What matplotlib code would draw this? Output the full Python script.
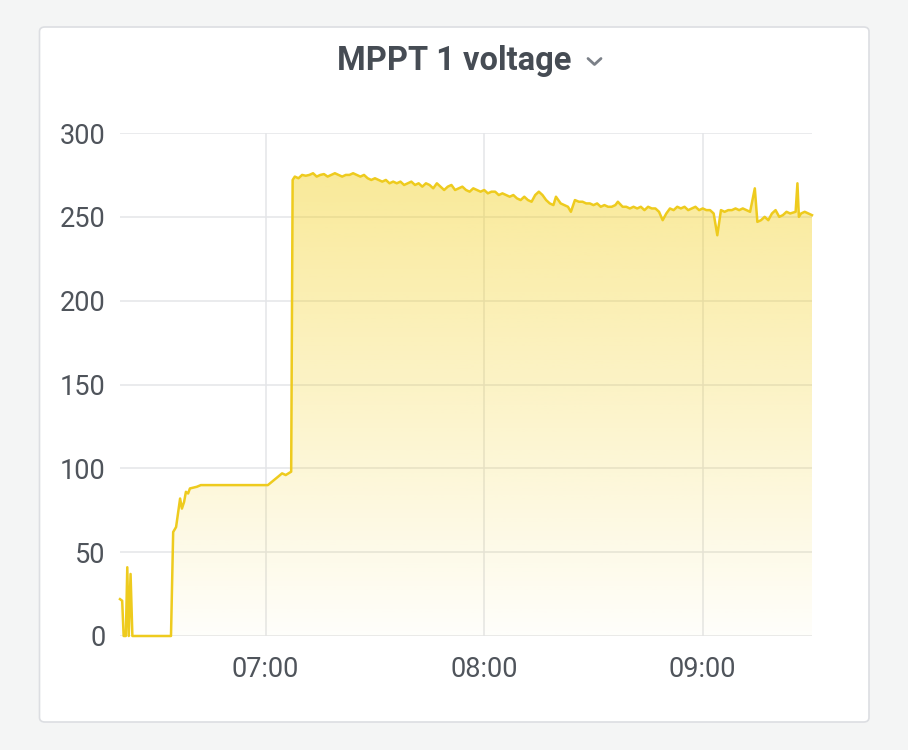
import numpy as np
import pandas as pd
import matplotlib
matplotlib.use("Agg")
import matplotlib.pyplot as plt
import matplotlib.dates as mdates
from matplotlib.patches import FancyBboxPatch, Polygon

plt.rcParams['font.family'] = ['Roboto', 'DejaVu Sans']

title = "MPPT 1 voltage"
start_time = "2024-01-01 06:20"
end_minute = 190

# minutes after 06:20 and voltage values
minutes = [0.0, 0.6, 1.0, 1.6, 2.0, 2.4, 2.9, 3.4, 14.0, 14.6, 15.4, 16.5, 17.0, 17.6,
           18.1, 18.7, 19.2, 21.1, 22.2, 40.6, 42.3, 43.4, 44.5, 45.5, 47.0, 47.4,
           48, 49, 50, 51, 52, 53, 54, 55, 56, 57, 58, 59, 60, 61, 62, 63, 64, 65, 66, 67,
           68, 69, 70, 71, 72, 73, 74, 75, 76, 77, 78, 79, 80, 81, 82, 83, 84, 85, 86, 87,
           88, 89, 90, 91, 92, 93, 94, 95, 96, 97, 98, 99, 100, 101, 102, 103, 104, 105,
           106, 107, 108, 109, 110, 111, 112, 113, 114, 115, 116, 117, 118, 119, 119.7,
           121, 122, 123, 123.8, 124.9, 126, 127, 128, 129, 130, 131, 132, 133, 134, 135,
           136, 136.7, 138, 139, 140, 141, 142, 143, 144, 145, 146, 147, 148, 149, 150,
           151, 152, 153, 154, 155, 156, 157, 158, 159, 160, 161, 162, 163, 164, 165,
           166, 167, 168, 169, 170, 171, 172, 173, 174.3, 175, 176, 177, 178, 179, 180,
           181, 182, 183, 184, 185.5, 186, 186.4, 187, 188, 189, 190]
voltage = [22, 21, 0, 0, 41, 0, 37, 0, 0, 62, 65, 82, 76, 80,
           86, 85, 88, 89, 90, 90, 93, 95, 97, 96, 98, 272,
           274, 273, 275, 274.5, 275, 276, 274, 275, 275.5, 274, 275, 276, 275, 274, 275, 275, 276, 275, 274, 275,
           273, 272, 273, 272, 271, 272, 270, 271, 270, 271, 269, 270, 271, 269, 270, 268, 270, 269, 267, 270,
           268, 266, 268, 269, 266, 267, 268, 266, 265, 267, 266, 265, 266, 264, 265, 265, 263, 264,
           263, 262, 263, 261, 260, 262, 260, 259, 263, 265, 263, 260, 258, 257, 262,
           258, 257, 256, 253, 260, 259, 259, 258, 258, 257, 258, 256, 257, 256, 256,
           257, 259, 256, 256, 255, 256, 255, 256, 254, 256, 255, 255, 253, 248, 252,
           255, 254, 256, 255, 256, 254, 255, 256, 254, 255, 254, 254, 252, 239, 254,
           253, 254, 254, 255, 254, 255, 254, 253, 267, 247, 248, 250, 248, 252, 254,
           250, 251, 253, 252, 253, 270, 250, 252, 253, 252, 251]
yticks = [0, 50, 100, 150, 200, 250, 300]

t0 = pd.Timestamp(start_time)
times = t0 + pd.to_timedelta(minutes, unit="min")
xnum = mdates.date2num(times.to_pydatetime())
xmin = mdates.date2num(t0.to_pydatetime())
xmax = mdates.date2num((t0 + pd.Timedelta(minutes=end_minute)).to_pydatetime())

W, H = 908, 750
fig = plt.figure(figsize=(W / 100, H / 100), dpi=100, facecolor="#f4f5f5")

# card
card = FancyBboxPatch((39.5 / W, (H - 722) / H), (869 - 39.5) / W, (722 - 27) / H,
                      boxstyle="round,pad=0,rounding_size=0.006", transform=fig.transFigure,
                      facecolor="white", edgecolor="#dcdee2", linewidth=1.2, zorder=-5)
fig.patches.append(card)

ax = fig.add_axes([120 / W, (H - 636) / H, (812 - 120) / W, (636 - 133) / H])
ax.set_zorder(5)
ax.set_facecolor("none")

line_color = "#EECB1E"
# gradient fill
vmax = max(voltage)
grad = np.linspace(0.02, 0.42, 256).reshape(-1, 1)
rgba = np.zeros((256, 1, 4))
rgba[..., 0] = 242 / 255
rgba[..., 1] = 204 / 255
rgba[..., 2] = 12 / 255
rgba[..., 3] = grad
im = ax.imshow(rgba, extent=[xmin, xmax, 0, vmax], origin="lower", aspect="auto", zorder=1)
verts = [(xnum[0], 0)] + list(zip(xnum, voltage)) + [(xnum[-1], 0)]
poly = Polygon(verts, closed=True, facecolor="none", edgecolor="none", transform=ax.transData)
ax.add_patch(poly)
im.set_clip_path(poly)
ax.set_xlim(xmin, xmax)
ax.set_ylim(0, 300)

ax.plot(xnum, voltage, color=line_color, lw=1.8, zorder=3, clip_on=False, solid_joinstyle="round")

ax.set_yticks(yticks)
ax.xaxis.set_major_locator(mdates.HourLocator())
ax.xaxis.set_major_formatter(mdates.DateFormatter("%H:%M"))
ax.grid(True, color="#e4e5e8", lw=1.1, zorder=0)
ax.set_axisbelow(True)
for s in ax.spines.values():
    s.set_visible(False)
ax.tick_params(axis="both", length=0, labelsize=19.5, labelcolor="#4f545b")
ax.tick_params(axis="y", pad=10.5)
ax.tick_params(axis="x", pad=14.5)

fig.text(454 / W, (H - 61) / H, title, ha="center", va="center", fontsize=23.5,
         fontweight="semibold", color="#464c54")
# dropdown chevron
cx = np.array([588, 594.5, 601]) / W
cy = (H - np.array([58.5, 64.5, 58.5])) / H
fig.add_artist(plt.Line2D(cx, cy, transform=fig.transFigure, color="#7b8088", lw=2,
                          solid_capstyle="round", solid_joinstyle="round"))

fig.savefig("out.png", dpi=100, facecolor=fig.get_facecolor())
